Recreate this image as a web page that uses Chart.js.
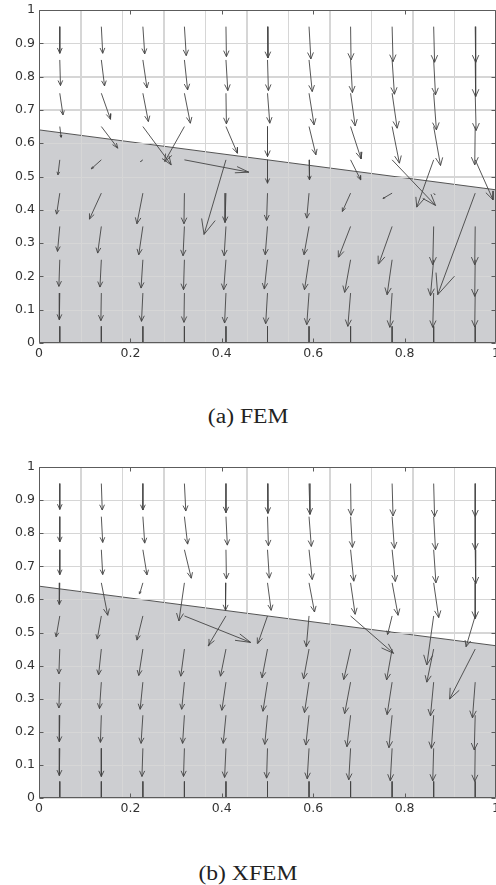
<!DOCTYPE html>
<html><head><meta charset="utf-8">
<script src="https://cdn.jsdelivr.net/npm/chart.js@4.4.1/dist/chart.umd.min.js"></script>
<style>
html,body{margin:0;padding:0;background:#fff;width:496px;height:885px;overflow:hidden;position:relative}
.wrap{position:absolute;left:0;width:496px;height:365px}
.cap{position:absolute;left:0;width:496px;text-align:center;font-family:"Liberation Serif","Times New Roman",serif;font-size:20px;color:#222;line-height:20px;white-space:nowrap}
.cap span{display:inline-block;transform:scaleX(1.18)}
</style></head><body>
<div class="wrap" style="top:0"><canvas id="c1" width="496" height="365"></canvas></div>
<div class="wrap" style="top:455px"><canvas id="c2" width="496" height="365"></canvas></div>
<div class="cap" style="top:406px"><span>(a) FEM</span></div>
<div class="cap" style="top:863px"><span>(b) XFEM</span></div>
<script>
// arrow tail positions (element centres)
const gridX = [0.0455,0.1364,0.2273,0.3182,0.4091,0.5,0.5909,0.6818,0.7727,0.8636,0.9545];
const gridY = [0.95,0.85,0.75,0.65,0.55,0.45,0.35,0.25,0.15,0.05];
// mesh lines (vertical grid)
const meshX = [0,0.0909,0.1818,0.2727,0.3636,0.4545,0.5455,0.6364,0.7273,0.8182,0.9091,1];
const xTicks = [0,0.2,0.4,0.6,0.8,1];
const xTickLabels = ['0','0.2','0.4','0.6','0.8','1'];
const yTicks = [0,0.1,0.2,0.3,0.4,0.5,0.6,0.7,0.8,0.9,1];
const yTickLabels = ['0','0.1','0.2','0.3','0.4','0.5','0.6','0.7','0.8','0.9','1'];
// interface line bounding the shaded region
const interfaceX = [0,1];
const interfaceY = [0.64,0.46];

// FEM displacement vectors, rows from y=0.95 down to y=0.05
const femU = [
 [0,0.003,0.004,0.004,0.001,0.001,0.004,0.001,0.002,0.002,0.001],
 [0.0015,0.007,0.009,0.007,0.004,0.002,0.007,0.004,0.005,0.004,0.001],
 [0.007,0.02,0.012,0.013,0.001,0.005,0.011,0.01,0.011,0.006,0.002],
 [0.003,0.036,0.062,-0.043,0.025,0,0.015,0.023,0.016,0.015,-0.001],
 [-0.004,-0.022,-0.005,0.141,-0.048,0,0.001,0.022,0.095,-0.037,0.039],
 [-0.007,-0.026,-0.013,-0.001,-0.002,-0.002,-0.005,-0.018,-0.02,0.003,-0.082],
 [-0.005,-0.008,-0.009,-0.003,-0.004,-0.005,-0.011,-0.026,-0.029,-0.002,-0.001],
 [-0.002,-0.003,-0.004,-0.002,-0.005,-0.007,-0.01,-0.013,-0.011,-0.007,-0.001],
 [-0.001,-0.001,-0.003,-0.001,-0.003,-0.004,-0.005,-0.006,-0.005,-0.002,-0.001],
 [0,0,0,0,0,0,0,0,0,0,0]
];
const femV = [
 [-0.08,-0.08,-0.082,-0.087,-0.09,-0.094,-0.097,-0.1,-0.105,-0.107,-0.107],
 [-0.077,-0.078,-0.084,-0.09,-0.092,-0.092,-0.095,-0.098,-0.103,-0.105,-0.11],
 [-0.065,-0.078,-0.085,-0.09,-0.092,-0.09,-0.095,-0.098,-0.105,-0.11,-0.112],
 [-0.032,-0.065,-0.115,-0.105,-0.08,-0.09,-0.085,-0.097,-0.11,-0.117,-0.115],
 [-0.045,-0.027,-0.005,-0.037,-0.224,-0.07,-0.06,-0.06,-0.137,-0.142,-0.12],
 [-0.063,-0.078,-0.092,-0.092,-0.088,-0.082,-0.075,-0.055,-0.016,-0.005,-0.305],
 [-0.075,-0.08,-0.085,-0.088,-0.088,-0.085,-0.085,-0.092,-0.112,-0.115,-0.115],
 [-0.08,-0.082,-0.085,-0.09,-0.09,-0.088,-0.09,-0.098,-0.105,-0.108,-0.11],
 [-0.08,-0.083,-0.085,-0.088,-0.09,-0.092,-0.095,-0.1,-0.103,-0.103,-0.102],
 [-0.08,-0.08,-0.085,-0.09,-0.09,-0.09,-0.095,-0.1,-0.105,-0.105,-0.105]
];
// XFEM displacement vectors
const xfemU = [
 [0,0.002,0,0.003,0,0.001,0.002,0.001,0.002,0.002,0],
 [0,0.003,0.004,0.007,0.003,0.002,0.005,0.004,0.005,0.004,0],
 [0,0.003,0.009,0.015,0.001,0.004,0.007,0.007,0.007,0.005,0.001],
 [-0.001,0.014,-0.007,-0.012,-0.001,0.008,0.012,0.01,0.013,0.011,0],
 [-0.008,-0.009,-0.013,0.145,-0.039,-0.021,-0.006,0.094,-0.01,-0.015,-0.02],
 [-0.002,-0.006,-0.009,-0.008,-0.012,-0.012,-0.012,-0.015,-0.012,-0.015,-0.056],
 [-0.002,-0.004,-0.006,-0.006,-0.009,-0.01,-0.01,-0.013,-0.011,-0.007,-0.006],
 [-0.001,-0.002,-0.004,-0.004,-0.006,-0.006,-0.007,-0.008,-0.007,-0.005,-0.002],
 [-0.001,0,-0.002,-0.002,-0.003,-0.002,-0.004,-0.004,-0.004,-0.002,-0.001],
 [0,0,0,0,0,0,0,0,0,0,0]
];
const xfemV = [
 [-0.078,-0.08,-0.08,-0.083,-0.088,-0.09,-0.093,-0.096,-0.098,-0.1,-0.1],
 [-0.076,-0.078,-0.08,-0.083,-0.086,-0.088,-0.09,-0.093,-0.096,-0.1,-0.1],
 [-0.075,-0.075,-0.076,-0.086,-0.088,-0.086,-0.09,-0.095,-0.096,-0.1,-0.103],
 [-0.065,-0.098,-0.033,-0.115,-0.083,-0.083,-0.088,-0.095,-0.098,-0.105,-0.108],
 [-0.063,-0.07,-0.073,-0.08,-0.09,-0.083,-0.093,-0.113,-0.056,-0.148,-0.093],
 [-0.075,-0.078,-0.08,-0.082,-0.082,-0.087,-0.09,-0.092,-0.093,-0.1,-0.151],
 [-0.078,-0.08,-0.082,-0.082,-0.085,-0.088,-0.092,-0.095,-0.098,-0.102,-0.108],
 [-0.08,-0.082,-0.085,-0.085,-0.085,-0.088,-0.09,-0.095,-0.098,-0.1,-0.105],
 [-0.082,-0.085,-0.085,-0.085,-0.088,-0.09,-0.092,-0.095,-0.098,-0.098,-0.1],
 [-0.08,-0.085,-0.085,-0.085,-0.09,-0.09,-0.095,-0.098,-0.1,-0.1,-0.1]
];

const GRID = '#d6d6d6';
const TICKFONT = {family:'"DejaVu Sans", sans-serif', size:12.5};

function arrowPoints(U, V){
  const pts = [];
  const a = 0.2, b = 0.33; // quiver-style head proportions
  for (let r = 0; r < gridY.length; r++) {
    for (let c = 0; c < gridX.length; c++) {
      const x = gridX[c], y = gridY[r], u = U[r][c], v = V[r][c];
      const hx = x + u, hy = y + v;
      pts.push({x:x, y:y}, {x:hx, y:hy}, {x:hx, y:null});
      pts.push({x:hx - a*(u + b*v), y:hy - a*(v - b*u)}, {x:hx, y:hy},
               {x:hx - a*(u - b*v), y:hy - a*(v + b*u)}, {x:hx, y:null});
    }
  }
  return pts;
}

const gridOverFill = {
  id:'gridOverFill',
  afterDatasetDraw(ch, args){
    if (args.index !== 1) return;
    const {ctx, chartArea:a, scales} = ch;
    ctx.save();
    ctx.beginPath(); ctx.rect(a.left, a.top, a.right-a.left, a.bottom-a.top); ctx.clip();
    ctx.strokeStyle = GRID; ctx.lineWidth = 1;
    ctx.beginPath();
    scales.x2.ticks.forEach(t => { const p = Math.round(scales.x2.getPixelForValue(t.value)) + 0.5; ctx.moveTo(p, a.top); ctx.lineTo(p, a.bottom); });
    scales.y.ticks.forEach(t => { const p = Math.round(scales.y.getPixelForValue(t.value)) + 0.5; ctx.moveTo(a.left, p); ctx.lineTo(a.right, p); });
    ctx.stroke();
    ctx.restore();
  }
};

const frame = {
  id:'frame',
  afterDraw(ch){
    const {ctx, chartArea:a, scales} = ch;
    ctx.save();
    ctx.strokeStyle = '#5c5c5c'; ctx.lineWidth = 1;
    const L = Math.round(a.left)+0.5, R = Math.round(a.right)-0.5, T = Math.round(a.top)+0.5, B = Math.round(a.bottom)-0.5;
    ctx.beginPath();
    ctx.moveTo(L,T); ctx.lineTo(R,T); ctx.lineTo(R,B); ctx.lineTo(L,B); ctx.closePath();
    scales.x.ticks.forEach(t => { const p = Math.round(scales.x.getPixelForValue(t.value))+0.5; ctx.moveTo(p,B); ctx.lineTo(p,B-4); ctx.moveTo(p,T); ctx.lineTo(p,T+4); });
    scales.y.ticks.forEach(t => { const p = Math.round(scales.y.getPixelForValue(t.value))+0.5; ctx.moveTo(L,p); ctx.lineTo(L+4,p); ctx.moveTo(R,p); ctx.lineTo(R-4,p); });
    ctx.stroke();
    ctx.restore();
  }
};

function makeChart(id, U, V, padTop){
  return new Chart(document.getElementById(id), {
    type:'line',
    data:{datasets:[
      {data:arrowPoints(U,V), borderColor:'#444', borderWidth:0.9, pointRadius:0, fill:false, tension:0, spanGaps:false},
      {data:interfaceX.map((x,i)=>({x:x, y:interfaceY[i]})), borderColor:'#555', borderWidth:1, pointRadius:0, fill:'origin', backgroundColor:'#cdced1', tension:0}
    ]},
    options:{
      responsive:false, animation:false, events:[],
      layout:{padding:{top:padTop, right:0, left:0, bottom:0}},
      plugins:{legend:{display:false}, tooltip:{enabled:false}},
      scales:{
        x:{type:'linear', min:0, max:1,
           afterBuildTicks:s=>{ s.ticks = xTicks.map(v=>({value:v})); },
           ticks:{callback:(v,i)=>xTickLabels[i], font:TICKFONT, color:'#333', padding:3, maxRotation:0, autoSkip:false},
           grid:{display:false, drawTicks:false}, border:{display:false},
           afterFit:s=>{ s.height = 22; s.paddingLeft = 0; s.paddingRight = 0; }},
        x2:{type:'linear', position:'top', min:0, max:1,
           afterBuildTicks:s=>{ s.ticks = meshX.map(v=>({value:v})); },
           ticks:{display:false}, grid:{color:GRID, drawTicks:false}, border:{display:false},
           afterFit:s=>{ s.height = 0; s.paddingLeft = 0; s.paddingRight = 0; }},
        y:{type:'linear', min:0, max:1,
           afterBuildTicks:s=>{ s.ticks = yTicks.map(v=>({value:v})); },
           ticks:{callback:(v,i)=>yTickLabels[i], font:TICKFONT, color:'#333', padding:4, autoSkip:false},
           grid:{color:GRID, drawTicks:false}, border:{display:false},
           afterFit:s=>{ s.width = 39; s.paddingTop = 0; s.paddingBottom = 0; }}
      }
    },
    plugins:[gridOverFill, frame]
  });
}

makeChart('c1', femU, femV, 10);
makeChart('c2', xfemU, xfemV, 12);
</script>
</body></html>
